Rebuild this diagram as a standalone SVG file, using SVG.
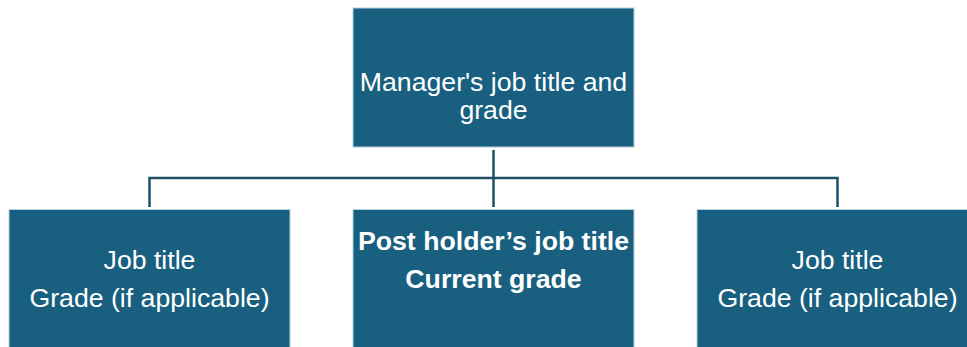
<svg xmlns="http://www.w3.org/2000/svg" width="967" height="347" viewBox="0 0 967 347">
<style>
.box{fill:#185f80;stroke:#b4cfdf;stroke-width:1}
.t{font-family:"Liberation Sans",Arial,sans-serif;font-size:26.67px;fill:#ffffff;text-anchor:middle}
.b{font-weight:bold}
.c{fill:none;stroke:#1d4f67;stroke-width:2.5}
</style>
<rect width="967" height="347" fill="#ffffff"/>
<g id="connectors">
<path class="c" d="M493.5,150 V207"/>
<path class="c" d="M149.5,207 V178 H837.5 V207"/>
</g>
<g id="manager">
<rect class="box" x="353" y="8" width="281" height="139"/>
<text class="t" x="493.5" y="91">Manager's job title and</text>
<text class="t" x="493.5" y="119">grade</text>
</g>
<g id="left">
<rect class="box" x="9" y="209.5" width="281" height="145"/>
<text class="t" x="149.5" y="269">Job title</text>
<text class="t" x="149.5" y="307">Grade (if applicable)</text>
</g>
<g id="postholder">
<rect class="box" x="353" y="209.5" width="281" height="145"/>
<text class="t b" x="493.5" y="250">Post holder’s job title</text>
<text class="t b" x="493.5" y="288">Current grade</text>
</g>
<g id="right">
<rect class="box" x="697" y="209.5" width="281" height="145"/>
<text class="t" x="837.5" y="269">Job title</text>
<text class="t" x="837.5" y="307">Grade (if applicable)</text>
</g>
</svg>
